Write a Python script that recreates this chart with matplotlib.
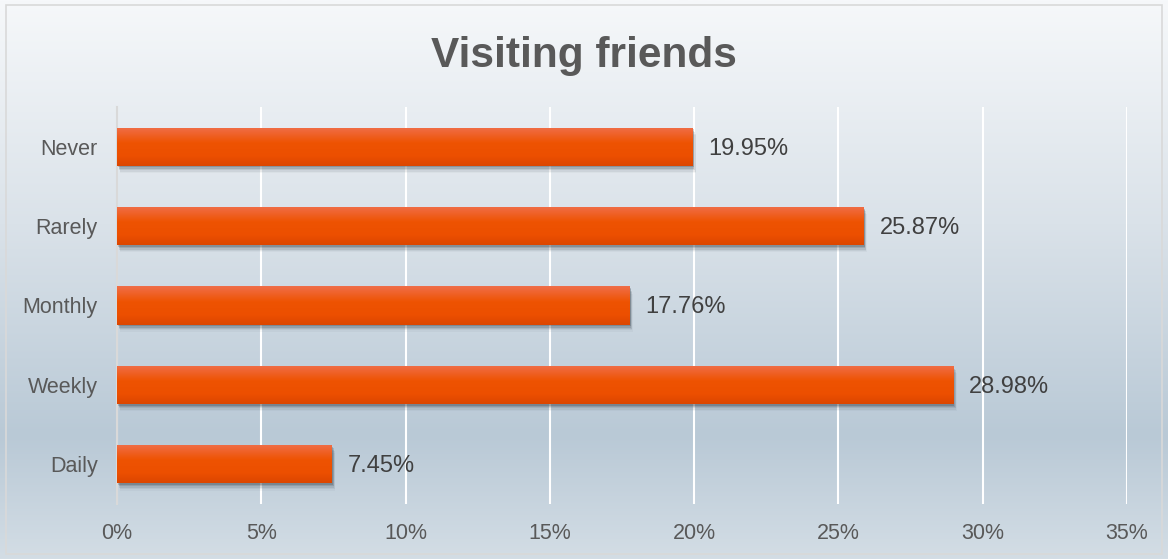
import numpy as np
import matplotlib.pyplot as plt
from matplotlib.patches import Rectangle
from matplotlib.colors import LinearSegmentedColormap

plt.rcParams['font.family'] = ['Liberation Sans', 'DejaVu Sans']

categories = ['Daily', 'Weekly', 'Monthly', 'Rarely', 'Never']
values = [7.45, 28.98, 17.76, 25.87, 19.95]
xticks = [0, 5, 10, 15, 20, 25, 30, 35]

fig = plt.figure(figsize=(11.68, 5.59), dpi=100)

# background gradient over the whole figure
bg = fig.add_axes([0, 0, 1, 1], zorder=-10)
bg_cmap = LinearSegmentedColormap.from_list(
    'bg', [(0, '#d3dde5'), (0.22, '#b9c9d6'), (0.6, '#dae2e9'), (1, '#f6f8fa')])
grad = np.linspace(0, 1, 256).reshape(-1, 1)
bg.imshow(grad, aspect='auto', cmap=bg_cmap, origin='lower', extent=[0, 1, 0, 1])
bg.add_patch(Rectangle((0.005, 0.009), 0.99, 0.982, fill=False, ec='#d9d9d9', lw=1.2,
                       transform=bg.transAxes))
bg.set_xlim(0, 1)
bg.set_ylim(0, 1)
bg.axis('off')

ax = fig.add_axes([117 / 1168, 55 / 559, 1010 / 1168, 397 / 559])
ax.patch.set_alpha(0)
ypos = np.arange(len(categories))
h = 0.48

bar_cmap = LinearSegmentedColormap.from_list(
    'bar', [(0, '#dc4600'), (0.25, '#ec4f00'), (0.6, '#ee5302'), (1, '#f06e48')])
vgrad = np.linspace(0, 1, 64).reshape(-1, 1)

bars = ax.barh(ypos, values, height=h, color='#ee5000', zorder=3)
for b, v, y in zip(bars, values, ypos):
    # soft shadow under bar
    for i, a in enumerate([0.22, 0.16, 0.11, 0.07, 0.04]):
        off = 0.02 + i * 0.018
        ax.add_patch(Rectangle((0.04 + i * 0.02, y - h / 2 - off), v, h,
                               color='#2e3a44', alpha=a, lw=0, zorder=2))
    im = ax.imshow(vgrad, aspect='auto', cmap=bar_cmap, origin='lower',
                   extent=[0, v, y - h / 2, y + h / 2], zorder=4)
    im.set_clip_path(b)
    ax.text(v + 0.55, y - 0.025, f'{v:.2f}%', va='center', ha='left', fontsize=17,
            color='#404040', zorder=5)

ax.set_xlim(0, 35)
ax.set_ylim(-0.5, 4.5)
ax.set_xticks(xticks)
ax.set_xticklabels([f'{t}%' for t in xticks], fontsize=15.5, color='#595959')
ax.set_yticks(ypos)
ax.set_yticklabels(categories, fontsize=15.5, color='#595959')
ax.tick_params(length=0)
ax.tick_params(axis='x', pad=14)
ax.tick_params(axis='y', pad=14)
ax.xaxis.grid(True, color='white', lw=1.5, zorder=0)
ax.set_axisbelow(True)
for s in ['top', 'right', 'bottom']:
    ax.spines[s].set_visible(False)
ax.spines['left'].set_color('#d9d9d9')
ax.spines['left'].set_linewidth(1.5)

fig.text(0.5, 0.9, 'Visiting friends', ha='center', va='center', fontsize=30.5,
         fontweight='bold', color='#595959')

fig.savefig('out.png', dpi=100)
